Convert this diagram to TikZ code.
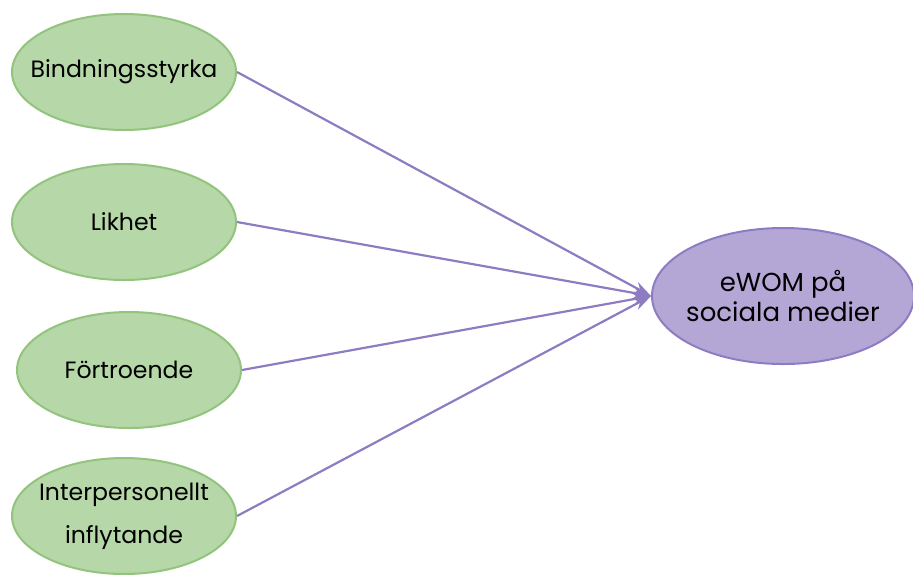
\documentclass[tikz,border=0pt]{standalone}
\usepackage{fontspec}
\setmainfont{Poppins}
\usepackage{xcolor}
\usepackage{tikz}
\usetikzlibrary{shapes.geometric, arrows.meta}

\definecolor{leafgreen}{HTML}{B6D7A8}
\definecolor{leafedge}{HTML}{93C47D}
\definecolor{lilac}{HTML}{B4A7D6}
\definecolor{lilacedge}{HTML}{8E7CC3}

\begin{document}
\begin{tikzpicture}[x=0.5pt, y=-0.5pt,
    factor/.style={draw=leafedge, fill=leafgreen, ellipse, line width=1pt, minimum width=112pt, minimum height=58pt, inner xsep=-16pt, inner ysep=0pt, align=center, font=\fontsize{11.8}{21.5}\selectfont},
    outcome/.style={draw=lilacedge, fill=lilac, ellipse, line width=1pt, minimum width=131pt, minimum height=68pt, inner xsep=-12pt, inner ysep=0pt, align=center, font=\fontsize{13}{15}\selectfont},
    link/.style={draw=lilacedge, line width=1.1pt, -{Stealth[length=9pt, width=6pt]}}]
  \useasboundingbox (0,0) rectangle (913,574);

  \node[factor] (bind) at (124,72) {Bindningsstyrka};
  \node[factor] (lik) at (124,222) {Likhet};
  \node[factor] (fort) at (129,370) {Förtroende};
  \node[factor] (inter) at (124,516) {Interpersonellt\\inflytande};
  \node[outcome] (ewom) at (783,296) {eWOM på\\sociala medier};

  \draw[link] (bind.east) -- (ewom.west);
  \draw[link] (lik.east) -- (ewom.west);
  \draw[link] (fort.east) -- (ewom.west);
  \draw[link] (inter.east) -- (ewom.west);
\end{tikzpicture}
\end{document}
